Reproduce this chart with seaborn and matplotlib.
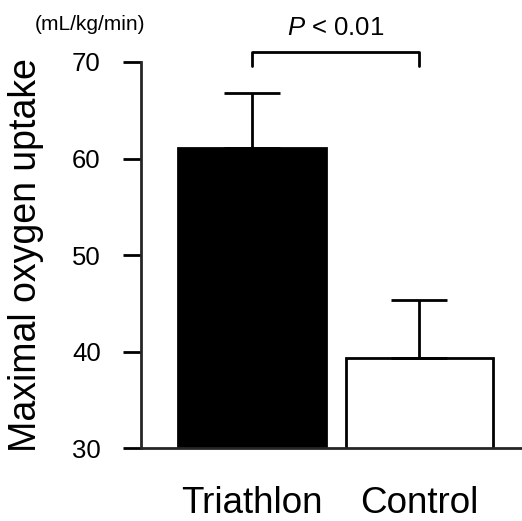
import pandas as pd
import matplotlib
matplotlib.use('Agg')
import matplotlib.pyplot as plt
import seaborn as sns

# Dados do gráfico
groups = ['Triathlon', 'Control']
means = [61.1, 39.3]
sds = [5.7, 6.0]
bar_colors = ['black', 'white']
y_ticks = [30, 40, 50, 60, 70]

df = pd.DataFrame({'Group': groups, 'VO2max': means})

sns.set_style('ticks')
plt.rcParams['font.family'] = ['Liberation Sans', 'DejaVu Sans']
plt.rcParams['mathtext.fontset'] = 'custom'
plt.rcParams['mathtext.it'] = 'Liberation Sans:italic'
plt.rcParams['mathtext.rm'] = 'Liberation Sans'
plt.rcParams['text.color'] = 'black'
plt.rcParams['axes.labelcolor'] = 'black'
plt.rcParams['xtick.color'] = 'black'
plt.rcParams['ytick.color'] = 'black'

fig = plt.figure(figsize=(5.22, 5.21), dpi=100)
ax = fig.add_axes([0.270, 0.140, 0.730, 0.741])

sns.barplot(x='Group', y='VO2max', data=df, hue='Group', palette=bar_colors,
            edgecolor='black', linewidth=2, width=0.88, legend=False, ax=ax,
            errorbar=None)

# Barras de erro apenas para cima
ax.errorbar(range(len(groups)), means, yerr=[[0] * len(sds), sds], fmt='none',
            ecolor='black', elinewidth=2, capsize=20, capthick=2, zorder=1)

ax.set_ylim(30, 70)
ax.set_xlim(-0.662, 1.6125)
ax.set_yticks(y_ticks)
ax.tick_params(axis='y', labelsize=18.5, width=2, length=13, direction='out', pad=16)
ax.tick_params(axis='x', labelsize=26.5, length=0, pad=27)
ax.set_xlabel('')
ax.set_ylabel('Maximal oxygen uptake', fontsize=27)
ax.yaxis.set_label_coords(-0.255, 0.5)
sns.despine(ax=ax, top=True, right=True)
for side in ['left', 'bottom']:
    ax.spines[side].set_linewidth(2)

# Unidade e significância
ax.text(-0.969, 73.9, '(mL/kg/min)', fontsize=15, ha='center', va='center', clip_on=False)
ax.plot([0, 0, 1, 1], [69.6, 71.0, 71.0, 69.6], color='black', lw=2, clip_on=False)
ax.text(0.5, 73.5, r'$P$ < 0.01', fontsize=18.5, ha='center', va='center', clip_on=False)

fig.savefig('out.png', dpi=100)
